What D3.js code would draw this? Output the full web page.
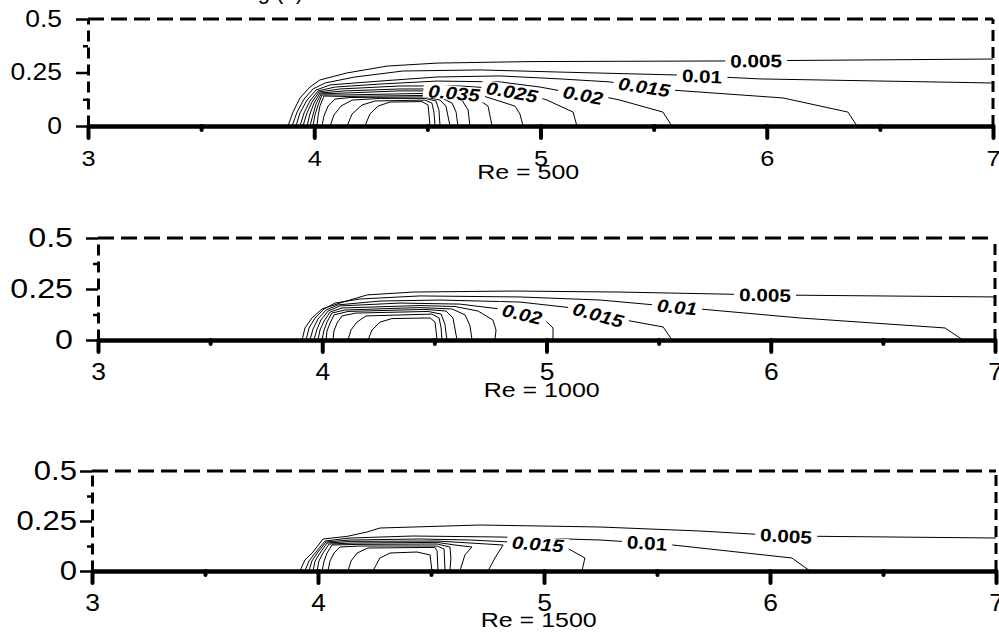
<!DOCTYPE html>
<html>
<head>
<meta charset="utf-8">
<script src="https://d3js.org/d3.v7.min.js"></script>
<style>
  body { margin: 0; background: #fff; }
  svg { display: block; font-family: Arial, "Liberation Sans", sans-serif; }
</style>
</head>
<body>
<div id="chart"></div>
<script>
// Contour levels for each Reynolds number
const levels500 = [0.005, 0.01, 0.015, 0.02, 0.025, 0.03, 0.035, 0.04, 0.045, 0.05, 0.055, 0.06, 0.065];
const levels1000 = [0.005, 0.01, 0.015, 0.02, 0.025, 0.03, 0.035, 0.04, 0.045, 0.05];
const levels1500 = [0.005, 0.01, 0.015, 0.02, 0.025, 0.03, 0.035, 0.04, 0.045];

// Contour polylines [x, y], one per level
const contours500 = [
  [[3.884,0],[3.906,0.065],[3.937,0.131],[3.981,0.182],[4.025,0.215],[4.145,0.248],[4.322,0.280],[4.543,0.294],[4.954,0.301],[5.838,0.304],[7.0,0.313]],
  [[3.902,0],[3.924,0.065],[3.955,0.126],[3.994,0.173],[4.048,0.201],[4.180,0.229],[4.392,0.257],[4.733,0.262],[5.086,0.252],[5.617,0.238],[5.970,0.220],[7.0,0.201]],
  [[3.919,0],[3.937,0.061],[3.968,0.121],[4.008,0.168],[4.070,0.192],[4.291,0.210],[4.543,0.229],[4.821,0.234],[5.086,0.220],[5.307,0.206],[5.462,0.182],[5.581,0.168],[6.072,0.131],[6.359,0.065],[6.399,0]],
  [[3.937,0],[3.955,0.061],[3.981,0.117],[4.017,0.164],[4.092,0.182],[4.291,0.196],[4.543,0.210],[4.821,0.206],[4.998,0.182],[5.188,0.145],[5.285,0.136],[5.351,0.121],[5.541,0.065],[5.581,0]],
  [[3.950,0],[3.968,0.061],[3.990,0.112],[4.021,0.159],[4.114,0.173],[4.379,0.187],[4.644,0.187],[4.777,0.178],[4.874,0.159],[4.985,0.136],[5.029,0.121],[5.144,0.065],[5.161,0]],
  [[3.968,0],[3.981,0.056],[3.999,0.107],[4.025,0.154],[4.136,0.164],[4.379,0.173],[4.556,0.173],[4.733,0.145],[4.887,0.093],[4.909,0.056],[4.923,0]],
  [[3.981,0],[3.994,0.051],[4.008,0.103],[4.030,0.150],[4.136,0.154],[4.379,0.164],[4.512,0.164],[4.622,0.154],[4.724,0.126],[4.768,0.093],[4.786,0]],
  [[3.994,0],[4.003,0.051],[4.017,0.098],[4.034,0.145],[4.136,0.145],[4.467,0.152],[4.556,0.145],[4.653,0.121],[4.680,0.075],[4.688,0]],
  [[4.012,0],[4.017,0.047],[4.025,0.093],[4.043,0.140],[4.136,0.138],[4.489,0.143],[4.556,0.136],[4.609,0.107],[4.627,0.065],[4.635,0]],
  [[4.034,0],[4.043,0.047],[4.061,0.093],[4.092,0.126],[4.158,0.133],[4.489,0.136],[4.556,0.121],[4.582,0.093],[4.600,0]],
  [[4.070,0],[4.087,0.051],[4.118,0.093],[4.167,0.121],[4.291,0.129],[4.489,0.129],[4.538,0.117],[4.551,0.075],[4.556,0]],
  [[4.145,0],[4.167,0.056],[4.211,0.098],[4.269,0.117],[4.489,0.121],[4.520,0.107],[4.529,0.065],[4.534,0]],
  [[4.224,0],[4.246,0.056],[4.282,0.093],[4.335,0.112],[4.476,0.114],[4.503,0.098],[4.512,0]]
];

const contours1000 = [
  [[3.910,0],[3.923,0.059],[3.954,0.108],[3.999,0.152],[4.093,0.186],[4.200,0.221],[4.405,0.235],[4.851,0.240],[5.328,0.235],[5.974,0.221],[7.0,0.211]],
  [[3.928,0],[3.941,0.059],[3.968,0.108],[4.008,0.152],[4.057,0.181],[4.168,0.201],[4.436,0.216],[4.882,0.211],[5.239,0.196],[5.582,0.162],[6.130,0.108],[6.777,0.059],[6.857,0]],
  [[3.945,0],[3.959,0.054],[3.981,0.103],[4.017,0.147],[4.070,0.172],[4.258,0.191],[4.525,0.196],[4.882,0.186],[5.118,0.157],[5.230,0.123],[5.350,0.098],[5.520,0.064],[5.560,0]],
  [[3.963,0],[3.977,0.054],[3.994,0.098],[4.026,0.142],[4.079,0.167],[4.347,0.181],[4.614,0.176],[4.793,0.152],[4.891,0.127],[4.993,0.098],[5.029,0.059],[5.029,0]],
  [[3.981,0],[3.990,0.049],[4.008,0.093],[4.035,0.137],[4.088,0.157],[4.436,0.169],[4.592,0.164],[4.695,0.142],[4.761,0.098],[4.775,0.049],[4.770,0]],
  [[3.999,0],[4.008,0.049],[4.021,0.088],[4.043,0.132],[4.101,0.147],[4.436,0.159],[4.579,0.152],[4.637,0.123],[4.659,0.069],[4.668,0]],
  [[4.017,0],[4.021,0.044],[4.035,0.083],[4.052,0.123],[4.115,0.140],[4.458,0.150],[4.552,0.142],[4.583,0.108],[4.601,0]],
  [[4.048,0],[4.052,0.044],[4.066,0.083],[4.088,0.118],[4.150,0.132],[4.472,0.140],[4.530,0.127],[4.547,0.078],[4.556,0]],
  [[4.115,0],[4.128,0.049],[4.155,0.088],[4.195,0.118],[4.489,0.127],[4.521,0.108],[4.530,0.059],[4.534,0]],
  [[4.204,0],[4.222,0.049],[4.258,0.088],[4.311,0.105],[4.481,0.108],[4.503,0.088],[4.512,0]]
];

const contours1500 = [
  [[3.920,0],[3.942,0.055],[3.978,0.095],[4.022,0.160],[4.128,0.173],[4.217,0.195],[4.274,0.215],[4.717,0.230],[5.248,0.220],[5.690,0.200],[6.071,0.175],[7.0,0.165]],
  [[3.942,0],[3.960,0.050],[3.991,0.095],[4.031,0.150],[4.142,0.165],[4.420,0.175],[4.805,0.170],[5.248,0.155],[5.456,0.140],[5.571,0.130],[6.097,0.065],[6.177,0]],
  [[3.960,0],[3.973,0.050],[4.000,0.095],[4.035,0.145],[4.142,0.155],[4.451,0.160],[4.673,0.155],[4.850,0.145],[4.973,0.135],[5.102,0.115],[5.181,0.065],[5.168,0]],
  [[3.978,0],[3.987,0.050],[4.009,0.090],[4.040,0.140],[4.150,0.148],[4.527,0.150],[4.673,0.140],[4.819,0.130],[4.783,0.065],[4.752,0]],
  [[3.996,0],[4.004,0.050],[4.022,0.090],[4.049,0.135],[4.164,0.140],[4.527,0.143],[4.606,0.130],[4.681,0.120],[4.650,0.080],[4.628,0]],
  [[4.018,0],[4.027,0.050],[4.040,0.090],[4.062,0.130],[4.177,0.133],[4.527,0.135],[4.584,0.120],[4.588,0.065],[4.584,0]],
  [[4.044,0],[4.053,0.050],[4.071,0.090],[4.097,0.120],[4.186,0.125],[4.527,0.125],[4.558,0.110],[4.562,0]],
  [[4.133,0],[4.146,0.050],[4.173,0.090],[4.221,0.115],[4.518,0.118],[4.527,0.100],[4.531,0]],
  [[4.243,0],[4.274,0.065],[4.319,0.090],[4.438,0.095],[4.496,0.080],[4.504,0]]
];

// Inline contour labels: level and the x where it sits
const labels500 = [
  { level: 0.035, x: 4.618 }, { level: 0.025, x: 4.874 }, { level: 0.02, x: 5.188 },
  { level: 0.015, x: 5.458 }, { level: 0.01, x: 5.714 }, { level: 0.005, x: 5.953 }
];
const labels1000 = [
  { level: 0.02, x: 4.891 }, { level: 0.015, x: 5.230 }, { level: 0.01, x: 5.582 }, { level: 0.005, x: 5.974 }
];
const labels1500 = [
  { level: 0.015, x: 4.973 }, { level: 0.01, x: 5.456 }, { level: 0.005, x: 6.071 }
];

// Axis ticks
const xMajor = [3, 4, 5, 6, 7];
const xMinor = [3.5, 4.5, 5.5, 6.5];
const yMajor = [0, 0.25, 0.5];
const yMinor = [0.125, 0.375];

// Horizontal stretch of the text in the original figure
const sx = 1.15;
const sxRe = 1.25;

const width = 999, height = 635;
const svg = d3.select('#chart').append('svg')
  .attr('width', width)
  .attr('height', height);

// Title, mostly cropped off the top
svg.append('text')
  .attr('x', 303).attr('y', -1.5)
  .attr('text-anchor', 'end')
  .style('font-size', '22px')
  .text('Heating (a)');

const panels = [
  { name: 'Re = 500', lines: contours500, levels: levels500, labels: labels500,
    x0: 88, x1: 993, top: 19, bottom: 126, yFont: 23, yPad: 14, xFont: 22, reY: 172 },
  { name: 'Re = 1000', lines: contours1000, levels: levels1000, labels: labels1000,
    x0: 98, x1: 995, top: 238, bottom: 340, yFont: 28, yPad: 13, xFont: 23, reY: 390 },
  { name: 'Re = 1500', lines: contours1500, levels: levels1500, labels: labels1500,
    x0: 92, x1: 996, top: 471, bottom: 571, yFont: 27, yPad: 3, xFont: 23, reY: 620 }
];

panels.forEach(p => {
  const x = d3.scaleLinear().domain([3, 7]).range([p.x0, p.x1]);
  const y = d3.scaleLinear().domain([0, 0.5]).range([p.bottom, p.top]);
  const g = svg.append('g');

  // Contour lines
  const line = d3.line().x(d => x(d[0])).y(d => y(d[1]));
  g.append('g').selectAll('path')
    .data(p.lines)
    .join('path')
    .attr('d', line)
    .attr('fill', 'none')
    .attr('stroke', '#000')
    .attr('stroke-width', 1);

  // Contour labels with a white gap behind them
  p.labels.forEach(lb => {
    const pts = p.lines[p.levels.indexOf(lb.level)];
    for (let i = 0; i < pts.length - 1; i++) {
      const a = pts[i], b = pts[i + 1];
      if (a[0] === b[0]) continue;
      if (lb.x < Math.min(a[0], b[0]) || lb.x > Math.max(a[0], b[0])) continue;
      const t = (lb.x - a[0]) / (b[0] - a[0]);
      const px = x(lb.x), py = y(a[1] + t * (b[1] - a[1]));
      const ang = Math.atan2(y(b[1]) - y(a[1]), x(b[0]) - x(a[0])) * 180 / Math.PI;
      const lg = g.append('g').attr('transform', `translate(${px},${py}) rotate(${ang})`);
      const bg = lg.append('rect').attr('fill', '#fff');
      const txt = lg.append('text')
        .attr('text-anchor', 'middle')
        .attr('dy', '0.36em')
        .attr('transform', `scale(${sx},1)`)
        .style('font-size', '18px')
        .style('font-weight', 'bold')
        .style('font-style', Math.abs(ang) > 4 ? 'italic' : 'normal')
        .text(String(lb.level));
      const bb = txt.node().getBBox();
      bg.attr('x', bb.x * sx - 5).attr('width', bb.width * sx + 10)
        .attr('y', -7).attr('height', 14);
      break;
    }
  });

  // Dashed top and right frame
  g.append('line')
    .attr('x1', x(3)).attr('x2', x(7)).attr('y1', y(0.5)).attr('y2', y(0.5))
    .attr('stroke', '#000').attr('stroke-width', 3)
    .attr('stroke-dasharray', '16,7');
  g.append('line')
    .attr('x1', x(7)).attr('x2', x(7)).attr('y1', y(0)).attr('y2', y(0.5))
    .attr('stroke', '#000').attr('stroke-width', 3)
    .attr('stroke-dasharray', '11,6');

  // Y axis (dashed spine)
  const yAxis = g.append('g')
    .attr('transform', `translate(${p.x0},0)`)
    .call(d3.axisLeft(y).tickValues(yMajor).tickSize(12).tickSizeOuter(0)
      .tickPadding(p.yPad).tickFormat(d => String(d)));
  yAxis.select('.domain').attr('stroke-width', 3).attr('stroke-dasharray', '11,6');
  yAxis.selectAll('.tick line').attr('stroke-width', 2.5);
  yAxis.selectAll('.tick text')
    .style('font-size', p.yFont + 'px')
    .style('font-family', 'Arial, "Liberation Sans", sans-serif')
    .attr('fill', '#000')
    .attr('x', -(12 + p.yPad) / sx)
    .attr('transform', `scale(${sx},1)`);

  const yMin = g.append('g')
    .attr('transform', `translate(${p.x0},0)`)
    .call(d3.axisLeft(y).tickValues(yMinor).tickSize(5).tickFormat(''));
  yMin.select('.domain').remove();
  yMin.selectAll('.tick line').attr('stroke-width', 2.5);

  // X axis (thick spine)
  const xAxis = g.append('g')
    .attr('transform', `translate(0,${p.bottom})`)
    .call(d3.axisBottom(x).tickValues(xMajor).tickSize(12).tickSizeOuter(0)
      .tickPadding(12).tickFormat(d3.format('d')));
  xAxis.select('.domain').attr('stroke-width', 4.5);
  xAxis.selectAll('.tick line').attr('stroke-width', 4).attr('stroke-linecap', 'round');
  xAxis.selectAll('.tick text')
    .style('font-size', p.xFont + 'px')
    .style('font-family', 'Arial, "Liberation Sans", sans-serif')
    .attr('fill', '#000')
    .attr('transform', `scale(${sx},1)`);

  const xMin = g.append('g')
    .attr('transform', `translate(0,${p.bottom})`)
    .call(d3.axisBottom(x).tickValues(xMinor).tickSize(4).tickFormat(''));
  xMin.select('.domain').remove();
  xMin.selectAll('.tick line').attr('stroke-width', 4).attr('stroke-linecap', 'round');

  // Reynolds number caption
  g.append('g')
    .attr('transform', `translate(${x(4.72)},${p.reY + 7}) scale(${sxRe},1)`)
    .append('text')
    .style('font-size', '20px')
    .text(p.name);
});
</script>
</body>
</html>
